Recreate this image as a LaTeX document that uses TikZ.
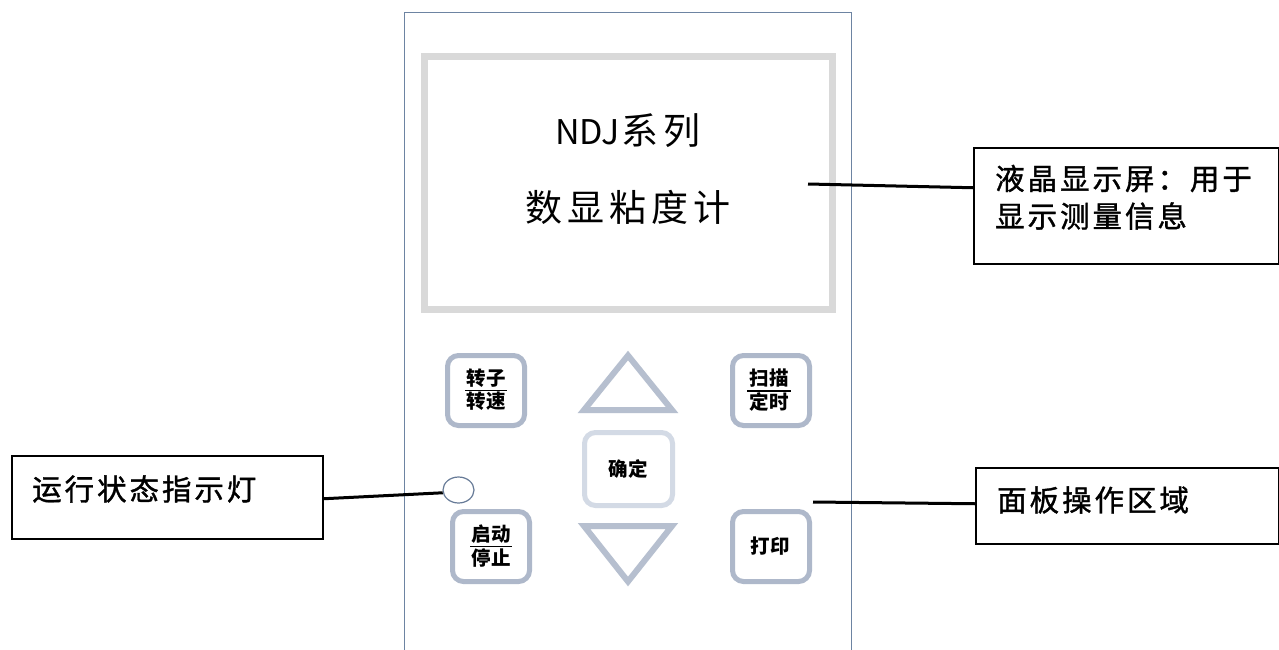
\documentclass[tikz,border=0pt]{standalone}
\usepackage{fontspec}
\usetikzlibrary{shapes.geometric}
\newfontfamily\cjk{Noto Sans CJK SC}
\newfontfamily\cjklcd[LetterSpace=13]{Noto Sans CJK SC}
\newfontfamily\cjknote[LetterSpace=10,FakeBold=1.2]{Noto Sans CJK SC}
\newfontfamily\cjkkey[LetterSpace=3]{Noto Sans CJK SC}
\definecolor{panelblue}{HTML}{6D84A2}
\definecolor{lcdgray}{HTML}{D9D9D9}
\definecolor{keyblue}{HTML}{AEB8CA}
\definecolor{okblue}{HTML}{D3DAE5}
\definecolor{ledblue}{HTML}{667A97}
\tikzset{
  panel/.style={draw=panelblue, line width=1pt},
  lcdframe/.style={draw=lcdgray, line width=7pt, minimum width=408pt, minimum height=253pt, inner sep=0pt},
  lcdtext/.style={font=\cjklcd\fontsize{37}{40}\selectfont, inner sep=0pt},
  keybox/.style={draw=keyblue, line width=5pt, rounded corners=11pt, minimum width=77pt, minimum height=70pt, inner sep=0pt, fill=white},
  okbox/.style={keybox, draw=okblue, minimum width=88pt, minimum height=73pt},
  keytext/.style={font=\cjkkey\bfseries\fontsize{19.5}{20}\selectfont, inner sep=0pt},
  keyrule/.style={line width=1.3pt},
  arrowkey/.style={draw=keyblue!90!white, line width=6pt, line join=miter},
  led/.style={ellipse, draw=ledblue, line width=1.2pt, minimum width=31pt, minimum height=26pt, inner sep=0pt, fill=white},
  notebox/.style={draw=black, line width=1.5pt, inner sep=0pt, anchor=north west},
  notetext/.style={font=\cjknote\fontsize{29.5}{37}\selectfont, inner sep=0pt, anchor=west, align=left},
  lead/.style={draw=black, line width=3pt},
}
\begin{document}
\begin{tikzpicture}[x=1pt,y=-1pt]
\useasboundingbox (0,0) rectangle (1279,650);
\fill[white] (0,0) rectangle (1279,650);

% instrument housing (open at the bottom)
\draw[panel] (404,650) -- (404,12.5) -- (851,12.5) -- (851,650);

% display
\node[lcdframe] (lcd) at (628,183) {};
\node[lcdtext] (title) at (628,131) {{\cjk\fontsize{34}{40}\selectfont NDJ}\kern2pt 系列};
\node[lcdtext] (subtitle) at (628,207) {数显粘度计};

% keypad
\node[keybox] (rotor) at (486,390.5) {};
\node[keytext] at ([yshift=12pt]rotor.center) {转子};
\node[keytext] at ([yshift=-11pt]rotor.center) {转速};
\draw[keyrule] ([xshift=-21pt]rotor.center) -- ([xshift=21pt]rotor.center);

\node[keybox] (scan) at (771,390.5) {};
\node[keytext] at ([xshift=-2pt,yshift=12pt]scan.center) {扫描};
\node[keytext] at ([xshift=-2pt,yshift=-11pt]scan.center) {定时};
\draw[keyrule] ([xshift=-24pt,yshift=-0.5pt]scan.center) -- ([xshift=20pt,yshift=-0.5pt]scan.center);

\node[okbox] (ok) at (628.5,469) {};
\node[keytext] at (ok.center) {确定};

\node[keybox] (start) at (491,546.5) {};
\node[keytext] at ([yshift=12pt]start.center) {启动};
\node[keytext] at ([yshift=-11pt]start.center) {停止};
\draw[keyrule] ([xshift=-21pt]start.center) -- ([xshift=21pt]start.center);

\node[keybox] (print) at (771,546.5) {};
\node[keytext] at ([xshift=-1pt]print.center) {打印};

\draw[arrowkey] (628,355.5) -- (672,410) -- (584,410) -- cycle;
\draw[arrowkey] (628,581.5) -- (672,526) -- (584,526) -- cycle;

% running-state lamp
\node[led] (led) at (458.5,490) {};

% callouts
\node[notebox, minimum width=305pt, minimum height=116pt] (lcdnote) at (973,147) {};
\node[notetext] at (995,178.5) {液晶显示屏：用于};
\node[notetext] at (995,216) {显示测量信息};
\coordinate (lcdtip) at (808,184);
\draw[lead] (lcdtip) -- ([yshift=18pt]lcdnote.west);

\node[notebox, minimum width=311pt, minimum height=83pt] (statusnote) at (11,455) {};
\node[notetext] at (32,489) {运行状态指示灯};
\draw[lead] ([yshift=-1.5pt]statusnote.east) -- (led.190);

\node[notebox, minimum width=303pt, minimum height=76pt] (panelnote) at (975,467) {};
\node[notetext] at (997,500) {面板操作区域};
\coordinate (paneltip) at (813,502);
\draw[lead] (paneltip) -- ([yshift=2pt]panelnote.west);
\end{tikzpicture}
\end{document}
